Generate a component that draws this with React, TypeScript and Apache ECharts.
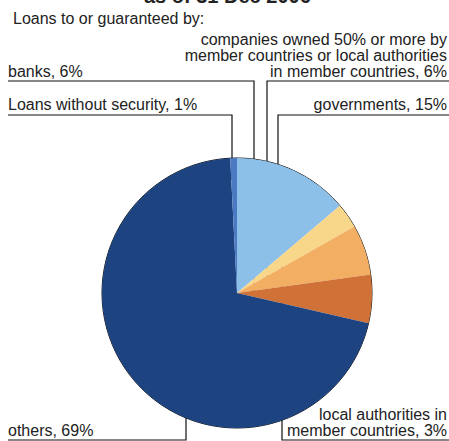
import React, { useEffect, useRef } from "react";
import * as echarts from "echarts";

// Categories in clockwise order starting at 12 o'clock
const categories = [
  "governments",
  "local authorities in\nmember countries",
  "companies owned 50% or more by\nmember countries or local authorities\nin member countries",
  "banks",
  "others",
  "Loans without security",
];
// Slice shares (angles)
const sliceShares = [13.8, 3.0, 6.0, 5.8, 70.6, 0.8];
// Percentages printed in the labels
const labelPercents = [15, 3, 6, 6, 69, 1];
const sliceColors = ["#8DC0E9", "#F8D68A", "#F2AE62", "#D07237", "#1D4381", "#4B7AC3"];

const titleText = "as of 31 Dec 2006";
const subtitleText = "Loans to or guaranteed by:";

const FONT = "'Liberation Sans', Arial, Helvetica, sans-serif";

// label layout (positions / leader lines)
const labelLayouts: any[] = [
  { x: 447, y: 104, align: "right", pts: [[278, 180], [278, 115], [449, 115]] },
  { x: 447, y: 422, align: "right", pts: [[282, 263], [282, 440], [449, 440]] },
  { x: 447, y: 55, align: "right", pts: [[267, 282], [267, 81], [449, 81]] },
  { x: 8, y: 71, align: "left", pts: [[254, 293], [254, 81], [8, 81]] },
  { x: 8, y: 430, align: "left", pts: [[186, 296], [186, 440], [8, 440]] },
  { x: 8, y: 104, align: "left", pts: [[232, 180], [232, 115], [8, 115]] },
];

export default function App() {
  const ref = useRef<HTMLDivElement>(null);
  useEffect(() => {
    if (!ref.current) return;
    const chart = echarts.init(ref.current, undefined, { renderer: "svg" });
    const data = categories.map((name, i) => ({
      name,
      value: sliceShares[i],
      itemStyle: { color: sliceColors[i] },
    }));
    chart.setOption({
      animation: false,
      title: [
        {
          text: titleText,
          left: 144,
          top: -14,
          padding: 0,
          textStyle: { fontSize: 20, fontWeight: "bold", color: "#222", fontFamily: FONT },
        },
        {
          text: subtitleText,
          left: 13,
          top: 10,
          padding: 0,
          textStyle: { fontSize: 16, fontWeight: "normal", color: "#222", fontFamily: FONT },
        },
      ],
      series: [
        {
          type: "pie",
          center: [237, 293],
          radius: 135,
          startAngle: 90,
          clockwise: true,
          avoidLabelOverlap: false,
          emphasis: { disabled: true, scale: false },
          itemStyle: { borderWidth: 0 },
          data,
          label: {
            show: true,
            position: "outside",
            fontSize: 16,
            lineHeight: 16,
            color: "#222",
            fontFamily: FONT,
            formatter: (p: any) => `${categories[p.dataIndex]}, ${labelPercents[p.dataIndex]}%`,
          },
          labelLine: {
            show: true,
            lineStyle: { color: "#111", width: 1.2 },
          },
          labelLayout: (params: any) => {
            const l = labelLayouts[params.dataIndex];
            return {
              x: l.x,
              y: l.y,
              align: l.align,
              verticalAlign: "middle",
              labelLinePoints: l.pts,
            };
          },
          z: 2,
        },
        {
          type: "pie",
          center: [237, 293],
          radius: 135,
          silent: true,
          label: { show: false },
          labelLine: { show: false },
          emphasis: { disabled: true },
          itemStyle: { color: "rgba(0,0,0,0)", borderColor: "#111", borderWidth: 1 },
          data: [{ value: 1, name: "outline" }],
          z: 1,
        },
      ],
    });
    return () => chart.dispose();
  }, []);
  return (
    <div
      ref={ref}
      style={{ position: "absolute", left: 0, top: 0, width: 449, height: 441, background: "#fff" }}
    />
  );
}
